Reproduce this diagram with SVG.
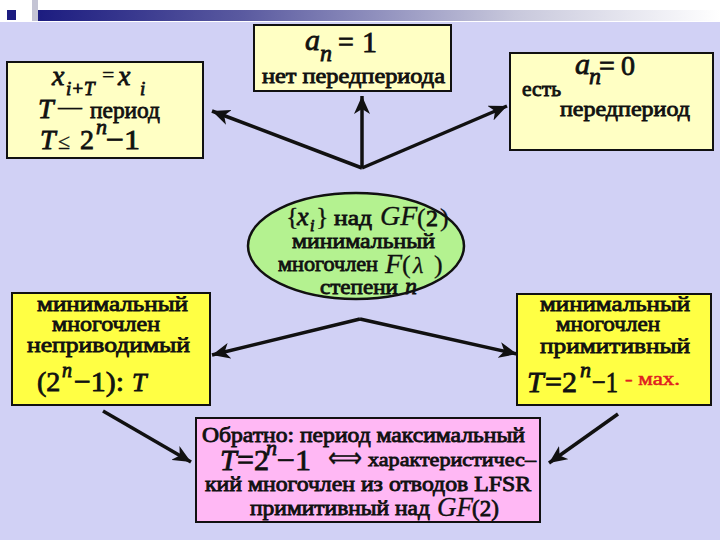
<svg xmlns="http://www.w3.org/2000/svg" width="720" height="540" viewBox="0 0 720 540">
<defs>
<linearGradient id="bar" x1="0" y1="0" x2="1" y2="0">
<stop offset="0" stop-color="#1c1c80"/>
<stop offset="0.3" stop-color="#5a5aa0"/>
<stop offset="0.7" stop-color="#c8c8dc"/>
<stop offset="1" stop-color="#ffffff"/>
</linearGradient>
<marker id="ah" markerUnits="userSpaceOnUse" markerWidth="20" markerHeight="16" refX="18" refY="8" orient="auto">
<path d="M0,0 L18,8 L0,16 L5,8 Z" fill="#111"/>
</marker>
<style>
text{font-family:'Liberation Serif','Times New Roman',serif;font-weight:normal;fill:#111;stroke:#111;stroke-width:0.8}
.m{font-size:20px}
.i{font-style:italic}
.n{stroke-width:0.3}
.box{stroke:#111;stroke-width:2}
.py{fill:#FFFFC4}
.by{fill:#FFFF44}
.pk{fill:#FFB8F4}
.cn{stroke:#111;stroke-width:3.5;fill:none;marker-end:url(#ah)}
.red{fill:#E02020;stroke:#E02020;stroke-width:0.5}
</style>
</defs>
<rect x="0" y="0" width="720" height="540" fill="#D1D1F5"/>
<rect x="0" y="0" width="720" height="22" fill="#ffffff"/>
<rect x="32" y="0" width="6" height="21" fill="#c4c4d4"/>
<rect x="38" y="10" width="682" height="11" fill="url(#bar)"/>
<rect x="7" y="10" width="9" height="10" fill="#1c1c80"/>

<g id="connectors">
<line class="cn" x1="362" y1="168" x2="362" y2="96"/>
<line class="cn" x1="362" y1="168" x2="212" y2="111"/>
<line class="cn" x1="362" y1="168" x2="507" y2="106"/>
<line class="cn" x1="360" y1="319" x2="212" y2="355"/>
<line class="cn" x1="360" y1="319" x2="517" y2="354"/>
<line class="cn" x1="103" y1="411" x2="191" y2="462"/>
<line class="cn" x1="618" y1="414" x2="549" y2="463"/>
</g>

<g id="periodic">
<rect class="box py" x="7" y="62" width="196" height="96"/>
<text class="i" x="52" y="85" font-size="28">x</text>
<text class="i" x="66" y="95" font-size="19">i+T</text>
<text class="n" x="102" y="82" font-size="22">=</text>
<text class="i" x="118" y="85" font-size="28">x</text>
<text class="i" x="140" y="95" font-size="19">i</text>
<text class="i" x="38" y="118" font-size="28">T</text>
<text class="n" x="58" y="114" font-size="24" textLength="24" lengthAdjust="spacingAndGlyphs">—</text>
<text x="90" y="118" font-size="24" textLength="70" lengthAdjust="spacingAndGlyphs">период</text>
<text class="i" x="40" y="149" font-size="28">T</text>
<text class="n" x="58" y="149" font-size="22">≤</text>
<text x="80" y="149" font-size="28">2</text>
<text class="i" x="96" y="134" font-size="22">n</text>
<text x="106" y="149" font-size="28" textLength="34" lengthAdjust="spacingAndGlyphs">−1</text>
</g>

<g id="no-preperiod">
<rect class="box py" x="254" y="25" width="197" height="66"/>
<text class="i" x="305" y="50" font-size="30">a</text>
<text class="i" x="320" y="61" font-size="24">n</text>
<text x="338" y="51" font-size="28">=</text>
<text x="362" y="52" font-size="30">1</text>
<text class="m" x="262" y="83" textLength="183" lengthAdjust="spacingAndGlyphs">нет передпериода</text>
</g>

<g id="preperiod">
<rect class="box py" x="510" y="53" width="203" height="97"/>
<text class="i" x="575" y="74" font-size="30">a</text>
<text class="i" x="589" y="84" font-size="24">n</text>
<text x="599" y="75" font-size="28">=</text>
<text x="621" y="75" font-size="28">0</text>
<text x="522" y="96" font-size="20" textLength="39" lengthAdjust="spacingAndGlyphs">есть</text>
<text x="560" y="116" font-size="21" textLength="130" lengthAdjust="spacingAndGlyphs">передпериод</text>
</g>

<g id="sequence">
<ellipse cx="356" cy="246" rx="108" ry="53" fill="#B4F290" stroke="#111" stroke-width="2.5"/>
<text class="n" x="286" y="225" font-size="26">{</text>
<text class="i" x="297" y="225" font-size="26">x</text>
<text class="i" x="310" y="231" font-size="16">i</text>
<text class="n" x="316" y="225" font-size="26">}</text>
<text x="334" y="225" font-size="21" textLength="38" lengthAdjust="spacingAndGlyphs">над</text>
<text class="i n" x="380" y="225" font-size="28">GF</text>
<text class="n" x="417" y="226" font-size="26">(</text>
<text x="426" y="226" font-size="24">2</text>
<text class="n" x="440" y="226" font-size="26">)</text>
<text x="292" y="248" font-size="21" textLength="143" lengthAdjust="spacingAndGlyphs">минимальный</text>
<text x="278" y="271" font-size="21" textLength="100" lengthAdjust="spacingAndGlyphs">многочлен</text>
<text class="i n" x="385" y="273" font-size="28">F</text>
<text class="n" x="402" y="273" font-size="26">(</text>
<text class="i n" x="413" y="273" font-size="24">λ</text>
<text class="n" x="434" y="273" font-size="26">)</text>
<text x="320" y="294" font-size="21" textLength="78" lengthAdjust="spacingAndGlyphs">степени</text>
<text class="i" x="405" y="294" font-size="24">n</text>
</g>

<g id="irreducible">
<rect class="box by" x="12" y="293" width="198" height="112"/>
<text x="37" y="311" font-size="21" textLength="151" lengthAdjust="spacingAndGlyphs">минимальный</text>
<text x="52" y="331" font-size="21" textLength="108" lengthAdjust="spacingAndGlyphs">многочлен</text>
<text x="27" y="352" font-size="21" textLength="163" lengthAdjust="spacingAndGlyphs">неприводимый</text>
<text x="37" y="391" font-size="28">(2</text>
<text class="i" x="62" y="377" font-size="20">n</text>
<text x="74" y="391" font-size="28" textLength="50" lengthAdjust="spacingAndGlyphs">−1):</text>
<text class="i" x="132" y="391" font-size="26">T</text>
</g>

<g id="primitive">
<rect class="box by" x="517" y="294" width="194" height="111"/>
<text x="540" y="311" font-size="21" textLength="150" lengthAdjust="spacingAndGlyphs">минимальный</text>
<text x="556" y="331" font-size="21" textLength="104" lengthAdjust="spacingAndGlyphs">многочлен</text>
<text x="540" y="353" font-size="21" textLength="150" lengthAdjust="spacingAndGlyphs">примитивный</text>
<text class="i" x="527" y="392" font-size="30">T</text>
<text x="545" y="392" font-size="30">=2</text>
<text class="i" x="580" y="377" font-size="22">n</text>
<text x="592" y="392" font-size="30" textLength="26" lengthAdjust="spacingAndGlyphs">−1</text>
<text class="red" x="625" y="385" font-size="18" textLength="55" lengthAdjust="spacingAndGlyphs">- мах.</text>
</g>

<g id="converse">
<rect class="box pk" x="196" y="418" width="344" height="104"/>
<text class="m" x="202" y="442" textLength="323" lengthAdjust="spacingAndGlyphs">Обратно: период  максимальный</text>
<text class="i" x="220" y="470" font-size="30">T</text>
<text x="237" y="470" font-size="30">=2</text>
<text class="i" x="266" y="455" font-size="22">n</text>
<text x="277" y="470" font-size="30" textLength="34" lengthAdjust="spacingAndGlyphs">−1</text>
<text class="n" x="328" y="467" font-size="28" textLength="34" lengthAdjust="spacingAndGlyphs">⟺</text>
<text x="368" y="466" font-size="19" textLength="168" lengthAdjust="spacingAndGlyphs">характеристичес–</text>
<text class="m" x="205" y="491" textLength="326" lengthAdjust="spacingAndGlyphs">кий многочлен из  отводов LFSR</text>
<text class="m" x="250" y="515" textLength="180" lengthAdjust="spacingAndGlyphs">примитивный над</text>
<text class="i n" x="437" y="516" font-size="27">GF</text>
<text x="472" y="516" font-size="23">(2)</text>
</g>
</svg>
